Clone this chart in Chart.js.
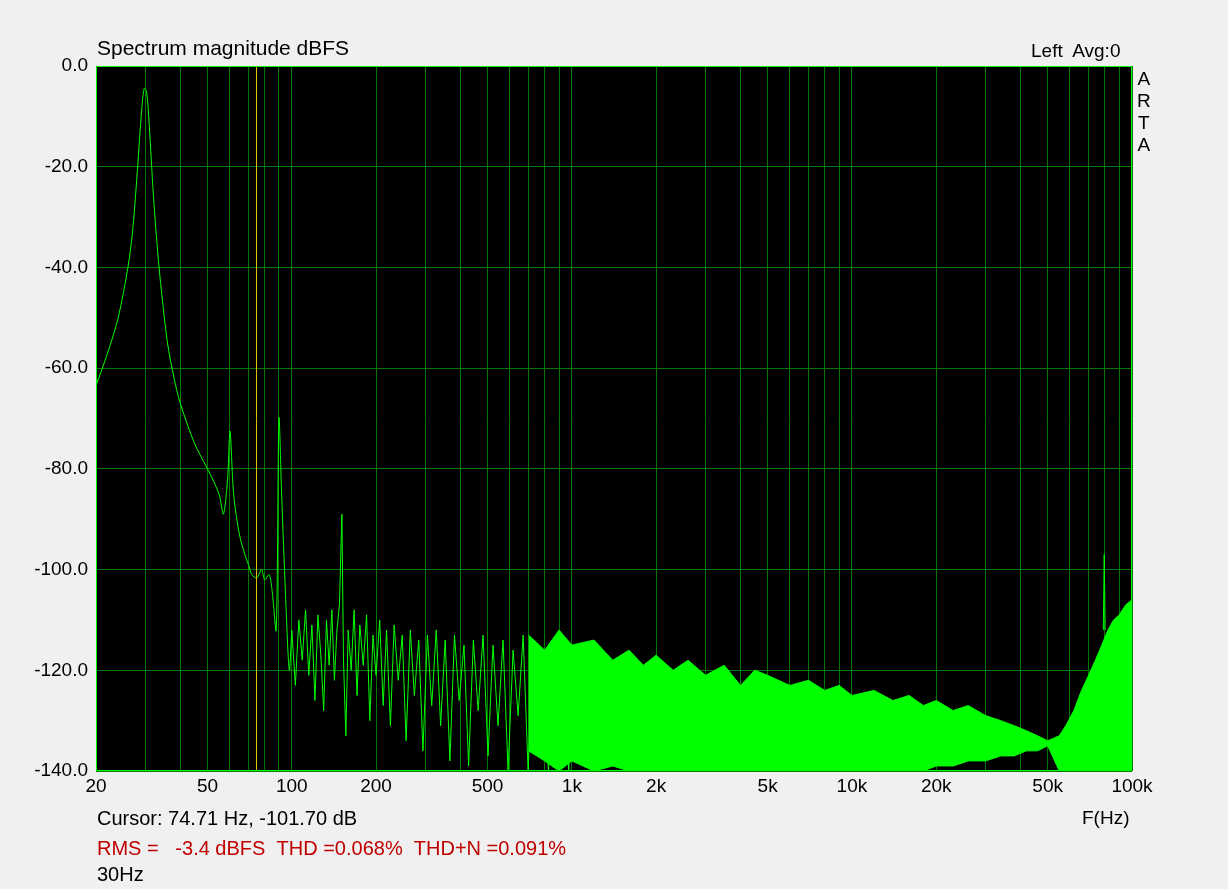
<!DOCTYPE html>
<html><head><meta charset="utf-8">
<script src="https://cdn.jsdelivr.net/npm/chart.js@4/dist/chart.umd.min.js"></script>
<style>
body{margin:0;background:#f0f0f0;font-family:"Liberation Sans",Arial,sans-serif;}
#wrap{position:relative;width:1228px;height:889px;}
.t{position:absolute;font-size:20px;color:#000;white-space:nowrap;line-height:1;}
</style></head><body>
<div id="wrap">
<canvas id="c" width="1228" height="889"></canvas>
<div class="t" style="left:97px;top:37px;font-size:21px">Spectrum magnitude dBFS</div>
<div class="t" style="left:1031px;top:41px;font-size:19px">Left&nbsp; Avg:0</div>
<div class="t" style="left:1137px;top:68px;line-height:22px;text-align:center;font-size:19px">A<br>R<br>T<br>A</div>
<div class="t" style="left:1082px;top:808px;font-size:19px">F(Hz)</div>
<div class="t" style="left:97px;top:808px">Cursor: 74.71 Hz, -101.70 dB</div>
<div class="t" style="left:97px;top:838px;color:#c00000">RMS = &nbsp; -3.4 dBFS &nbsp;THD =0.068% &nbsp;THD+N =0.091%</div>
<div class="t" style="left:97px;top:864px">30Hz</div>
</div>
<script>
const xTicks=[20,30,40,50,60,70,80,90,100,200,300,400,500,600,700,800,900,1000,2000,3000,4000,5000,6000,7000,8000,9000,10000,20000,30000,40000,50000,60000,70000,80000,90000,100000];
const xLabels={20:'20',50:'50',100:'100',200:'200',500:'500',1000:'1k',2000:'2k',5000:'5k',10000:'10k',20000:'20k',50000:'50k',100000:'100k'};
const lowF=[20,22,24,26,27,28,29,29.7,30.3,31,32,33,34,36,38,40,45,50,55,57,59,60.2,62,65,68,70,72,75,78,80,83,85,88,90,92,95,98,100];
const lowDb=[-63.5,-57,-50,-40,-33,-22,-10,-4.5,-5,-12,-25,-35,-43,-55,-62,-67,-75,-80,-85,-89,-82,-72.5,-85,-93,-97,-99,-101,-101.7,-100,-102,-101,-104,-112,-70,-85,-105,-120,-112];
const noiseF=[100,103,106,109,112,115,118,121,124,127,130,133,136,139,142,145,148,151,153,156,159,163,167,171,175,180,185,190,195,200,206,212,218,225,232,240,248,256,265,274,284,294,305,316,328,340,353,367,381,396,412,428,445,463,482,502,523,545,568,592,617,643,670,698,728,759,791,825,860,897,935,975,1016];
const noiseDb=[-112,-123,-110,-118,-108,-121,-111,-126,-109,-117,-128,-110,-119,-108,-122,-112,-107,-89,-118,-133,-112,-120,-108,-125,-111,-119,-109,-130,-113,-121,-110,-127,-112,-131,-111,-122,-113,-134,-112,-125,-114,-136,-113,-127,-112,-131,-114,-138,-113,-126,-115,-139,-114,-128,-113,-137,-115,-131,-114,-140,-116,-129,-113,-140,-115,-133,-116,-140,-114,-136,-117,-140,-115];
const bandF=[700,800,900,1000,1200,1400,1600,1800,2000,2300,2600,3000,3500,4000,4500,5000,6000,7000,8000,9000,10000,12000,14000,16000,18000,20000,23000,26000,30000,34000,38000,42000,46000,50000,55000,58000,62000,66000,70000,74000,78000,82000,86000,90000,95000,100000];
const bandHi=[-113,-116,-112,-115,-114,-118,-116,-119,-117,-120,-118,-121,-119,-123,-120,-121,-123,-122,-124,-123,-125,-124,-126,-125,-127,-126,-128,-127,-129,-130,-131,-132,-133,-134,-133,-131,-128,-124,-121,-118,-115,-112,-110,-109,-107,-106];
const bandLo=[-136,-138,-140,-138,-140,-139,-140,-140,-140,-140,-140,-140,-140,-140,-140,-140,-140,-140,-140,-140,-140,-140,-140,-140,-140,-139,-139,-138,-138,-137,-137,-136,-136,-135,-140,-140,-140,-140,-140,-140,-140,-140,-140,-140,-140,-140];
const spikeF=[79000,79600,80200], spikeDb=[-112,-97,-112];
const cursorF=74.71;
const pts=(f,d)=>f.map((v,i)=>({x:v,y:d[i]}));
const G='#00ff00';
const plotBg={id:'bg',beforeDraw(ch){const a=ch.chartArea,c=ch.ctx;c.save();c.fillStyle='#000';c.fillRect(a.left,a.top,a.right-a.left,a.bottom-a.top);c.restore();},
afterDatasetsDraw(ch){const a=ch.chartArea,c=ch.ctx,x=ch.scales.x.getPixelForValue(cursorF);c.save();c.strokeStyle='#e0c000';c.lineWidth=1;c.beginPath();c.moveTo(Math.round(x)+0.5,a.top);c.lineTo(Math.round(x)+0.5,a.bottom);c.stroke();c.strokeStyle=G;c.strokeRect(a.left+0.5,a.top+0.5,a.right-a.left-1,a.bottom-a.top-1);c.restore();}};
new Chart(document.getElementById('c'),{type:'line',
data:{datasets:[
{data:pts(bandF,bandHi),borderColor:G,borderWidth:1,pointRadius:0,fill:false},
{data:pts(bandF,bandLo),borderColor:G,borderWidth:1,pointRadius:0,backgroundColor:G,fill:'-1'},
{data:pts(noiseF,noiseDb),borderColor:G,borderWidth:1,pointRadius:0,fill:false},
{data:pts(lowF,lowDb),borderColor:G,borderWidth:1,pointRadius:0,fill:false,tension:0.3},
{data:pts(spikeF,spikeDb),borderColor:G,borderWidth:1,pointRadius:0,fill:false}
]},
options:{responsive:false,animation:false,
layout:{padding:{left:0,top:66,right:96,bottom:78}},
plugins:{legend:{display:false},tooltip:{enabled:false}},
scales:{
x:{type:'logarithmic',min:20,max:100000,
afterBuildTicks:s=>{s.ticks=xTicks.map(v=>({value:v}));},
afterFit:s=>{s.height=40;},
ticks:{autoSkip:false,maxRotation:0,color:'#000',font:{family:'Liberation Sans',size:19},padding:4,callback:v=>xLabels[v]||''},
grid:{color:'#007a00',drawTicks:false},border:{display:false}},
y:{min:-140,max:0,
afterBuildTicks:s=>{s.ticks=[0,-20,-40,-60,-80,-100,-120,-140].map(v=>({value:v}));},
afterFit:s=>{s.width=96;},
ticks:{color:'#000',font:{family:'Liberation Sans',size:19},padding:8,callback:v=>v.toFixed(1)},
grid:{color:'#007a00',drawTicks:false},border:{display:false}}
}},
plugins:[plotBg]});
</script></body></html>
